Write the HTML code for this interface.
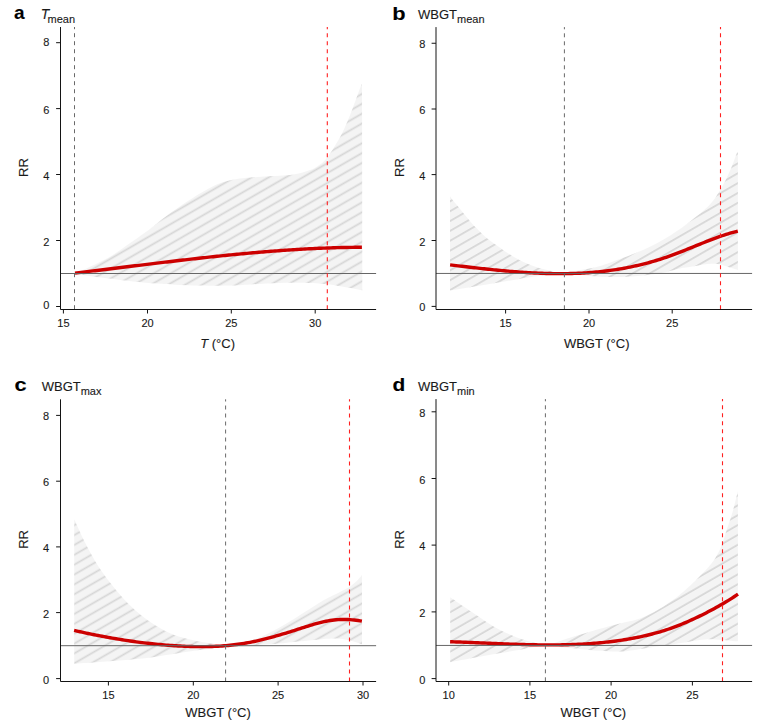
<!DOCTYPE html>
<html><head><meta charset="utf-8"><title>Figure</title>
<style>html,body{margin:0;padding:0;background:#fff;}svg{display:block;}text{stroke:#1a1a1a;stroke-width:0.12px;}</style></head><body>
<svg width="761" height="726" viewBox="0 0 761 726" font-family="'Liberation Sans', Arial, Helvetica, sans-serif">
<rect width="761" height="726" fill="#fff"/>
<defs>
<pattern id="ha" patternUnits="userSpaceOnUse" width="20" height="8.5390" patternTransform="rotate(-30)"><rect width="20" height="8.5390" fill="#f4f4f4"/><line x1="0" y1="6.149" x2="20" y2="6.149" stroke="#d6d6d6" stroke-width="1.7"/></pattern>
<pattern id="hb" patternUnits="userSpaceOnUse" width="20" height="8.5390" patternTransform="rotate(-30)"><rect width="20" height="8.5390" fill="#f4f4f4"/><line x1="0" y1="6.582" x2="20" y2="6.582" stroke="#d6d6d6" stroke-width="1.7"/></pattern>
<pattern id="hc" patternUnits="userSpaceOnUse" width="20" height="8.5390" patternTransform="rotate(-30)"><rect width="20" height="8.5390" fill="#f4f4f4"/><line x1="0" y1="5.283" x2="20" y2="5.283" stroke="#d6d6d6" stroke-width="1.7"/></pattern>
<pattern id="hc2" patternUnits="userSpaceOnUse" width="20" height="8.5390" patternTransform="rotate(-30)"><rect width="20" height="8.5390" fill="#f4f4f4"/><line x1="0" y1="3.377" x2="20" y2="3.377" stroke="#d6d6d6" stroke-width="1.7"/></pattern>
<pattern id="hd" patternUnits="userSpaceOnUse" width="20" height="8.5390" patternTransform="rotate(-30)"><rect width="20" height="8.5390" fill="#f4f4f4"/><line x1="0" y1="3.897" x2="20" y2="3.897" stroke="#d6d6d6" stroke-width="1.7"/></pattern>
</defs>
<g><path d="M74.60,273.00 C76.17,272.42 80.60,270.92 84.00,269.50 C87.40,268.08 90.18,266.90 95.00,264.50 C99.82,262.10 106.93,258.75 112.90,255.10 C118.87,251.45 124.62,246.97 130.80,242.60 C136.98,238.23 145.05,232.58 150.00,228.90 C154.95,225.22 157.00,223.22 160.50,220.50 C164.00,217.78 167.50,215.15 171.00,212.60 C174.50,210.05 178.00,207.57 181.50,205.20 C185.00,202.83 188.48,200.58 192.00,198.40 C195.52,196.22 199.08,194.12 202.60,192.10 C206.12,190.08 209.60,187.97 213.10,186.30 C216.60,184.63 219.20,183.38 223.60,182.10 C228.00,180.82 234.45,179.42 239.50,178.60 C244.55,177.78 249.08,177.58 253.90,177.20 C258.72,176.82 263.58,176.57 268.40,176.30 C273.22,176.03 277.98,176.02 282.80,175.60 C287.62,175.18 292.48,174.82 297.30,173.80 C302.12,172.78 308.15,170.87 311.70,169.50 C315.25,168.13 316.38,167.15 318.60,165.60 C320.82,164.05 323.10,162.22 325.00,160.20 C326.90,158.18 328.45,155.72 330.00,153.50 C331.55,151.28 332.27,150.32 334.30,146.90 C336.33,143.48 339.58,138.27 342.20,133.00 C344.82,127.73 347.37,121.85 350.00,115.30 C352.63,108.75 356.00,98.95 358.00,93.70 C360.00,88.45 361.33,85.45 362.00,83.80 L362.30,290.20 C358.65,289.53 346.35,287.20 340.40,286.20 C334.45,285.20 331.87,284.75 326.60,284.20 C321.33,283.65 316.68,283.12 308.80,282.90 C300.92,282.68 289.10,282.65 279.30,282.90 C269.50,283.15 258.22,283.95 250.00,284.40 C241.78,284.85 238.33,285.42 230.00,285.60 C221.67,285.78 209.17,285.65 200.00,285.50 C190.83,285.35 182.17,285.02 175.00,284.70 C167.83,284.38 164.00,284.13 157.00,283.60 C150.00,283.07 140.50,282.30 133.00,281.50 C125.50,280.70 119.00,279.68 112.00,278.80 C105.00,277.92 97.23,277.08 91.00,276.20 C84.77,275.32 77.33,273.95 74.60,273.50 Z" fill="url(#ha)"/>
<path d="M75.00,273.08 L77.00,272.84 L79.00,272.61 L81.00,272.37 L83.00,272.13 L85.00,271.89 L87.00,271.65 L89.00,271.42 L91.00,271.18 L93.00,270.93 L95.00,270.69 L97.00,270.45 L99.00,270.21 L101.00,269.97 L103.00,269.72 L105.00,269.48 L107.00,269.24 L109.00,268.99 L111.00,268.75 L113.00,268.51 L115.00,268.26 L117.00,268.02 L119.00,267.77 L121.00,267.53 L123.00,267.28 L125.00,267.04 L127.00,266.79 L129.00,266.54 L131.00,266.30 L133.00,266.05 L135.00,265.81 L137.00,265.57 L139.00,265.32 L141.00,265.08 L143.00,264.83 L145.00,264.59 L147.00,264.34 L149.00,264.10 L151.00,263.86 L153.00,263.62 L155.00,263.37 L157.00,263.13 L159.00,262.89 L161.00,262.65 L163.00,262.41 L165.00,262.17 L167.00,261.94 L169.00,261.70 L171.00,261.46 L173.00,261.23 L175.00,260.99 L177.00,260.76 L179.00,260.52 L181.00,260.29 L183.00,260.06 L185.00,259.83 L187.00,259.60 L189.00,259.37 L191.00,259.14 L193.00,258.91 L195.00,258.69 L197.00,258.46 L199.00,258.24 L201.00,258.02 L203.00,257.80 L205.00,257.58 L207.00,257.36 L209.00,257.14 L211.00,256.93 L213.00,256.72 L215.00,256.50 L217.00,256.29 L219.00,256.08 L221.00,255.88 L223.00,255.67 L225.00,255.46 L227.00,255.26 L229.00,255.06 L231.00,254.86 L233.00,254.66 L235.00,254.47 L237.00,254.27 L239.00,254.08 L241.00,253.89 L243.00,253.70 L245.00,253.52 L247.00,253.33 L249.00,253.15 L251.00,252.97 L253.00,252.79 L255.00,252.62 L257.00,252.44 L259.00,252.27 L261.00,252.10 L263.00,251.94 L265.00,251.77 L267.00,251.61 L269.00,251.45 L271.00,251.29 L273.00,251.14 L275.00,250.98 L277.00,250.83 L279.00,250.69 L281.00,250.54 L283.00,250.40 L285.00,250.26 L287.00,250.12 L289.00,249.99 L291.00,249.86 L293.00,249.73 L295.00,249.60 L297.00,249.48 L299.00,249.36 L301.00,249.24 L303.00,249.13 L305.00,249.02 L307.00,248.91 L309.00,248.80 L311.00,248.70 L313.00,248.60 L315.00,248.51 L317.00,248.41 L319.00,248.32 L321.00,248.24 L323.00,248.16 L325.00,248.08 L327.00,248.00 L329.00,247.93 L331.00,247.86 L333.00,247.79 L335.00,247.73 L337.00,247.67 L339.00,247.61 L341.00,247.56 L343.00,247.51 L345.00,247.47 L347.00,247.43 L349.00,247.39 L351.00,247.36 L353.00,247.33 L355.00,247.30 L357.00,247.28 L359.00,247.26 L361.00,247.25 L361.90,247.24" fill="none" stroke="#cc0000" stroke-width="3.4" stroke-linecap="butt" stroke-linejoin="round"/>
<line x1="60.50" y1="273.50" x2="376.10" y2="273.50" stroke="#666" stroke-width="1"/>
<line x1="74.50" y1="27.00" x2="74.50" y2="309.50" stroke="#6a6a6a" stroke-width="1" stroke-dasharray="4 4" stroke-dashoffset="1.8"/>
<line x1="327.30" y1="27.00" x2="327.30" y2="309.50" stroke="#ff2020" stroke-width="1.1" stroke-dasharray="4 4" stroke-dashoffset="1.8"/>
<path d="M60.50,27.00 V309.50 H376.10" fill="none" stroke="#141414" stroke-width="1"/>
<line x1="56.10" y1="42.70" x2="60.50" y2="42.70" stroke="#141414" stroke-width="1"/>
<text x="49.40" y="45.95" font-size="11" text-anchor="end" fill="#1a1a1a">8</text>
<line x1="56.10" y1="108.60" x2="60.50" y2="108.60" stroke="#141414" stroke-width="1"/>
<text x="49.40" y="113.95" font-size="11" text-anchor="end" fill="#1a1a1a">6</text>
<line x1="56.10" y1="174.50" x2="60.50" y2="174.50" stroke="#141414" stroke-width="1"/>
<text x="49.40" y="179.85" font-size="11" text-anchor="end" fill="#1a1a1a">4</text>
<line x1="56.10" y1="240.50" x2="60.50" y2="240.50" stroke="#141414" stroke-width="1"/>
<text x="49.40" y="245.95" font-size="11" text-anchor="end" fill="#1a1a1a">2</text>
<line x1="56.10" y1="306.50" x2="60.50" y2="306.50" stroke="#141414" stroke-width="1"/>
<text x="49.40" y="308.85" font-size="11" text-anchor="end" fill="#1a1a1a">0</text>
<line x1="63.40" y1="309.50" x2="63.40" y2="313.50" stroke="#141414" stroke-width="1"/>
<text x="63.40" y="326.80" font-size="11" text-anchor="middle" fill="#1a1a1a">15</text>
<line x1="147.50" y1="309.50" x2="147.50" y2="313.50" stroke="#141414" stroke-width="1"/>
<text x="147.50" y="326.80" font-size="11" text-anchor="middle" fill="#1a1a1a">20</text>
<line x1="231.30" y1="309.50" x2="231.30" y2="313.50" stroke="#141414" stroke-width="1"/>
<text x="231.30" y="326.80" font-size="11" text-anchor="middle" fill="#1a1a1a">25</text>
<line x1="315.20" y1="309.50" x2="315.20" y2="313.50" stroke="#141414" stroke-width="1"/>
<text x="315.20" y="326.80" font-size="11" text-anchor="middle" fill="#1a1a1a">30</text>
<text transform="translate(23.20,167.50) rotate(-90)" x="0" y="0" font-size="13" text-anchor="middle" dominant-baseline="central" fill="#1a1a1a">RR</text>
<text x="217.60" y="348.30" font-size="13" text-anchor="middle" fill="#1a1a1a"><tspan font-style="italic">T</tspan> (°C)</text>
<text transform="translate(14.00,19.30) scale(1.000,1)" x="0" y="0" font-size="19" font-weight="bold" fill="#000">a</text>
<text x="40.80" y="18.90" font-size="14" fill="#1a1a1a"><tspan font-style="italic">T</tspan><tspan font-size="11" dx="-1.8" dy="3.6">mean</tspan></text></g>
<g><path d="M450.00,196.30 C450.63,197.18 452.20,199.58 453.80,201.60 C455.40,203.62 457.67,206.07 459.60,208.40 C461.53,210.73 463.48,213.27 465.40,215.60 C467.32,217.93 469.18,220.23 471.10,222.40 C473.02,224.57 474.97,226.60 476.90,228.60 C478.83,230.60 480.60,232.47 482.70,234.40 C484.80,236.33 487.25,238.43 489.50,240.20 C491.75,241.97 493.95,243.38 496.20,245.00 C498.45,246.62 501.03,248.53 503.00,249.90 C504.97,251.27 506.23,252.07 508.00,253.20 C509.77,254.33 510.93,255.20 513.60,256.70 C516.27,258.20 520.50,260.55 524.00,262.20 C527.50,263.85 531.08,265.37 534.60,266.60 C538.12,267.83 541.70,268.72 545.10,269.60 C548.50,270.48 551.78,271.33 555.00,271.90 C558.22,272.47 560.78,273.18 564.40,273.00 C568.02,272.82 572.77,271.50 576.70,270.80 C580.63,270.10 584.12,269.60 588.00,268.80 C591.88,268.00 594.67,267.65 600.00,266.00 C605.33,264.35 614.03,261.07 620.00,258.90 C625.97,256.73 630.55,255.17 635.80,253.00 C641.05,250.83 646.25,248.53 651.50,245.90 C656.75,243.27 662.55,240.03 667.30,237.20 C672.05,234.37 676.05,231.65 680.00,228.90 C683.95,226.15 687.10,223.72 691.00,220.70 C694.90,217.68 699.88,213.90 703.40,210.80 C706.92,207.70 709.40,205.42 712.10,202.10 C714.80,198.78 717.32,194.62 719.60,190.90 C721.88,187.18 723.73,183.93 725.80,179.80 C727.87,175.67 730.15,170.55 732.00,166.10 C733.85,161.65 735.92,155.37 736.90,153.10 C737.88,150.83 737.73,152.60 737.90,152.50 L737.90,269.90 C736.22,269.37 730.70,267.62 727.80,266.70 C724.90,265.78 722.63,264.90 720.50,264.40 C718.37,263.90 717.15,263.75 715.00,263.70 C712.85,263.65 710.37,263.82 707.60,264.10 C704.83,264.38 701.47,264.90 698.40,265.40 C695.33,265.90 692.27,266.58 689.20,267.10 C686.13,267.62 684.87,267.47 680.00,268.50 C675.13,269.53 666.67,272.08 660.00,273.30 C653.33,274.52 646.50,275.20 640.00,275.80 C633.50,276.40 627.67,276.73 621.00,276.90 C614.33,277.07 607.38,277.18 600.00,276.80 C592.62,276.42 582.63,275.10 576.70,274.60 C570.77,274.10 567.92,273.85 564.40,273.80 C560.88,273.75 560.57,273.83 555.60,274.30 C550.63,274.77 541.60,275.65 534.60,276.60 C527.60,277.55 520.60,278.83 513.60,280.00 C506.60,281.17 499.62,282.42 492.60,283.60 C485.58,284.78 478.60,285.95 471.50,287.10 C464.40,288.25 453.58,289.93 450.00,290.50 Z" fill="url(#hb)"/>
<path d="M450.10,264.91 L452.10,265.15 L454.10,265.38 L456.10,265.61 L458.10,265.85 L460.10,266.08 L462.10,266.31 L464.10,266.54 L466.10,266.78 L468.10,267.01 L470.10,267.23 L472.10,267.46 L474.10,267.69 L476.10,267.91 L478.10,268.14 L480.10,268.36 L482.10,268.58 L484.10,268.79 L486.10,269.01 L488.10,269.22 L490.10,269.43 L492.10,269.63 L494.10,269.83 L496.10,270.03 L498.10,270.23 L500.10,270.42 L502.10,270.61 L504.10,270.79 L506.10,270.97 L508.10,271.15 L510.10,271.32 L512.10,271.49 L514.10,271.65 L516.10,271.80 L518.10,271.96 L520.10,272.10 L522.10,272.24 L524.10,272.38 L526.10,272.51 L528.10,272.63 L530.10,272.75 L532.10,272.86 L534.10,272.96 L536.10,273.06 L538.10,273.15 L540.10,273.23 L542.10,273.31 L544.10,273.38 L546.10,273.44 L548.10,273.50 L550.10,273.54 L552.10,273.58 L554.10,273.61 L556.10,273.63 L558.10,273.65 L560.10,273.65 L562.10,273.64 L564.10,273.63 L566.10,273.61 L568.10,273.58 L570.10,273.54 L572.10,273.48 L574.10,273.42 L576.10,273.35 L578.10,273.27 L580.10,273.18 L582.10,273.08 L584.10,272.96 L586.10,272.84 L588.10,272.70 L590.10,272.56 L592.10,272.40 L594.10,272.23 L596.10,272.05 L598.10,271.86 L600.10,271.65 L602.10,271.44 L604.10,271.21 L606.10,270.97 L608.10,270.71 L610.10,270.44 L612.10,270.16 L614.10,269.87 L616.10,269.56 L618.10,269.25 L620.10,268.91 L622.10,268.57 L624.10,268.21 L626.10,267.83 L628.10,267.45 L630.10,267.05 L632.10,266.63 L634.10,266.20 L636.10,265.76 L638.10,265.30 L640.10,264.82 L642.10,264.34 L644.10,263.83 L646.10,263.32 L648.10,262.78 L650.10,262.24 L652.10,261.67 L654.10,261.09 L656.10,260.50 L658.10,259.89 L660.10,259.26 L662.10,258.62 L664.10,257.96 L666.10,257.29 L668.10,256.59 L670.10,255.89 L672.10,255.16 L674.10,254.42 L676.10,253.67 L678.10,252.90 L680.10,252.13 L682.10,251.34 L684.10,250.55 L686.10,249.75 L688.10,248.94 L690.10,248.13 L692.10,247.31 L694.10,246.50 L696.10,245.69 L698.10,244.87 L700.10,244.06 L702.10,243.26 L704.10,242.46 L706.10,241.66 L708.10,240.88 L710.10,240.10 L712.10,239.34 L714.10,238.59 L716.10,237.85 L718.10,237.13 L720.10,236.42 L722.10,235.74 L724.10,235.07 L726.10,234.42 L728.10,233.80 L730.10,233.20 L732.10,232.62 L734.10,232.07 L736.10,231.55 L737.80,231.13" fill="none" stroke="#cc0000" stroke-width="3.4" stroke-linecap="butt" stroke-linejoin="round"/>
<line x1="436.00" y1="273.45" x2="752.10" y2="273.45" stroke="#666" stroke-width="1"/>
<line x1="564.40" y1="27.10" x2="564.40" y2="309.50" stroke="#6a6a6a" stroke-width="1" stroke-dasharray="4 4" stroke-dashoffset="1.8"/>
<line x1="720.50" y1="27.10" x2="720.50" y2="309.50" stroke="#ff2020" stroke-width="1.1" stroke-dasharray="4 4" stroke-dashoffset="1.8"/>
<path d="M436.00,27.10 V309.50 H752.10" fill="none" stroke="#141414" stroke-width="1"/>
<line x1="431.60" y1="43.25" x2="436.00" y2="43.25" stroke="#141414" stroke-width="1"/>
<text x="425.30" y="47.95" font-size="11" text-anchor="end" fill="#1a1a1a">8</text>
<line x1="431.60" y1="109.00" x2="436.00" y2="109.00" stroke="#141414" stroke-width="1"/>
<text x="425.30" y="114.15" font-size="11" text-anchor="end" fill="#1a1a1a">6</text>
<line x1="431.60" y1="174.60" x2="436.00" y2="174.60" stroke="#141414" stroke-width="1"/>
<text x="425.30" y="180.15" font-size="11" text-anchor="end" fill="#1a1a1a">4</text>
<line x1="431.60" y1="240.50" x2="436.00" y2="240.50" stroke="#141414" stroke-width="1"/>
<text x="425.30" y="245.95" font-size="11" text-anchor="end" fill="#1a1a1a">2</text>
<line x1="431.60" y1="306.40" x2="436.00" y2="306.40" stroke="#141414" stroke-width="1"/>
<text x="425.30" y="310.95" font-size="11" text-anchor="end" fill="#1a1a1a">0</text>
<line x1="505.60" y1="309.50" x2="505.60" y2="313.50" stroke="#141414" stroke-width="1"/>
<text x="505.60" y="327.00" font-size="11" text-anchor="middle" fill="#1a1a1a">15</text>
<line x1="589.00" y1="309.50" x2="589.00" y2="313.50" stroke="#141414" stroke-width="1"/>
<text x="589.00" y="327.00" font-size="11" text-anchor="middle" fill="#1a1a1a">20</text>
<line x1="672.20" y1="309.50" x2="672.20" y2="313.50" stroke="#141414" stroke-width="1"/>
<text x="672.20" y="327.00" font-size="11" text-anchor="middle" fill="#1a1a1a">25</text>
<text transform="translate(399.00,167.50) rotate(-90)" x="0" y="0" font-size="13" text-anchor="middle" dominant-baseline="central" fill="#1a1a1a">RR</text>
<text x="596.70" y="348.10" font-size="13" text-anchor="middle" fill="#1a1a1a">WBGT (°C)</text>
<text transform="translate(392.30,19.50) scale(1.150,1)" x="0" y="0" font-size="19" font-weight="bold" fill="#000">b</text>
<text x="418.00" y="19.00" font-size="13" fill="#1a1a1a">WBGT<tspan font-size="11" dy="3.8">mean</tspan></text></g>
<g><path d="M74.20,519.30 C76.00,523.17 81.12,534.90 85.00,542.50 C88.88,550.10 93.33,558.25 97.50,564.90 C101.67,571.55 105.85,576.98 110.00,582.40 C114.15,587.82 118.25,592.82 122.40,597.40 C126.55,601.98 130.73,606.15 134.90,609.90 C139.07,613.65 143.23,616.88 147.40,619.90 C151.57,622.92 155.73,625.60 159.90,628.00 C164.07,630.40 168.25,632.60 172.40,634.30 C176.55,636.00 180.65,637.05 184.80,638.20 C188.95,639.35 193.13,640.37 197.30,641.20 C201.47,642.03 205.68,642.58 209.80,643.20 C213.92,643.82 219.37,644.50 222.00,644.90 C224.63,645.30 225.00,645.48 225.60,645.60 L225.60,645.70 C223.83,646.12 219.77,647.43 215.00,648.20 C210.23,648.97 204.50,649.23 197.00,650.30 C189.50,651.37 178.03,653.37 170.00,654.60 C161.97,655.83 156.70,656.75 148.80,657.70 C140.90,658.65 131.35,659.53 122.60,660.30 C113.85,661.07 104.37,661.72 96.30,662.30 C88.23,662.88 77.88,663.55 74.20,663.80 Z" fill="url(#hc)"/>
<path d="M225.60,645.60 C226.33,645.50 227.60,645.33 230.00,645.00 C232.40,644.67 235.85,644.55 240.00,643.60 C244.15,642.65 251.23,640.48 254.90,639.30 C258.57,638.12 258.18,638.28 262.00,636.50 C265.82,634.72 272.55,631.48 277.80,628.60 C283.05,625.72 288.25,622.42 293.50,619.20 C298.75,615.98 304.55,612.28 309.30,609.30 C314.05,606.32 318.92,603.17 322.00,601.30 C325.08,599.43 324.87,599.62 327.80,598.10 C330.73,596.58 335.92,594.10 339.60,592.20 C343.28,590.30 347.13,588.47 349.90,586.70 C352.67,584.93 354.18,583.50 356.20,581.60 C358.22,579.70 361.03,576.35 362.00,575.30 L362.00,644.30 C360.07,643.68 354.18,641.53 350.40,640.60 C346.62,639.67 344.03,638.93 339.30,638.70 C334.57,638.47 328.83,638.73 322.00,639.20 C315.17,639.67 305.53,640.77 298.30,641.50 C291.07,642.23 285.25,643.02 278.60,643.60 C271.95,644.18 264.83,644.50 258.40,645.00 C251.97,645.50 244.40,646.38 240.00,646.60 C235.60,646.82 234.40,646.45 232.00,646.30 C229.60,646.15 226.67,645.80 225.60,645.70 Z" fill="url(#hc2)"/>
<path d="M74.10,630.40 L76.10,630.86 L78.10,631.31 L80.10,631.75 L82.10,632.19 L84.10,632.63 L86.10,633.06 L88.10,633.48 L90.10,633.89 L92.10,634.30 L94.10,634.71 L96.10,635.11 L98.10,635.50 L100.10,635.89 L102.10,636.27 L104.10,636.65 L106.10,637.02 L108.10,637.38 L110.10,637.74 L112.10,638.09 L114.10,638.43 L116.10,638.77 L118.10,639.11 L120.10,639.43 L122.10,639.75 L124.10,640.07 L126.10,640.37 L128.10,640.67 L130.10,640.97 L132.10,641.25 L134.10,641.54 L136.10,641.81 L138.10,642.08 L140.10,642.34 L142.10,642.59 L144.10,642.84 L146.10,643.08 L148.10,643.31 L150.10,643.54 L152.10,643.76 L154.10,643.97 L156.10,644.17 L158.10,644.37 L160.10,644.56 L162.10,644.74 L164.10,644.92 L166.10,645.09 L168.10,645.25 L170.10,645.40 L172.10,645.55 L174.10,645.69 L176.10,645.82 L178.10,645.94 L180.10,646.06 L182.10,646.16 L184.10,646.26 L186.10,646.35 L188.10,646.42 L190.10,646.49 L192.10,646.55 L194.10,646.59 L196.10,646.63 L198.10,646.65 L200.10,646.67 L202.10,646.67 L204.10,646.66 L206.10,646.63 L208.10,646.59 L210.10,646.54 L212.10,646.48 L214.10,646.40 L216.10,646.31 L218.10,646.21 L220.10,646.09 L222.10,645.95 L224.10,645.80 L226.10,645.64 L228.10,645.46 L230.10,645.26 L232.10,645.04 L234.10,644.81 L236.10,644.56 L238.10,644.30 L240.10,644.01 L242.10,643.71 L244.10,643.39 L246.10,643.05 L248.10,642.70 L250.10,642.32 L252.10,641.93 L254.10,641.51 L256.10,641.08 L258.10,640.64 L260.10,640.18 L262.10,639.70 L264.10,639.21 L266.10,638.71 L268.10,638.19 L270.10,637.66 L272.10,637.11 L274.10,636.56 L276.10,635.99 L278.10,635.42 L280.10,634.83 L282.10,634.24 L284.10,633.64 L286.10,633.03 L288.10,632.41 L290.10,631.79 L292.10,631.16 L294.10,630.52 L296.10,629.88 L298.10,629.24 L300.10,628.59 L302.10,627.95 L304.10,627.30 L306.10,626.67 L308.10,626.04 L310.10,625.42 L312.10,624.82 L314.10,624.24 L316.10,623.68 L318.10,623.14 L320.10,622.62 L322.10,622.14 L324.10,621.68 L326.10,621.26 L328.10,620.88 L330.10,620.54 L332.10,620.24 L334.10,619.99 L336.10,619.78 L338.10,619.62 L340.10,619.52 L342.10,619.46 L344.10,619.44 L346.10,619.47 L348.10,619.55 L350.10,619.66 L352.10,619.82 L354.10,620.03 L356.10,620.27 L358.10,620.55 L360.10,620.86 L361.90,621.18" fill="none" stroke="#cc0000" stroke-width="3.4" stroke-linecap="butt" stroke-linejoin="round"/>
<line x1="60.50" y1="645.70" x2="376.10" y2="645.70" stroke="#666" stroke-width="1"/>
<line x1="225.60" y1="399.30" x2="225.60" y2="681.50" stroke="#6a6a6a" stroke-width="1" stroke-dasharray="4 4" stroke-dashoffset="1.8"/>
<line x1="349.50" y1="399.30" x2="349.50" y2="681.50" stroke="#ff2020" stroke-width="1.1" stroke-dasharray="4 4" stroke-dashoffset="1.8"/>
<path d="M60.50,399.30 V681.50 H376.10" fill="none" stroke="#141414" stroke-width="1"/>
<line x1="56.10" y1="415.40" x2="60.50" y2="415.40" stroke="#141414" stroke-width="1"/>
<text x="49.20" y="420.05" font-size="11" text-anchor="end" fill="#1a1a1a">8</text>
<line x1="56.10" y1="481.20" x2="60.50" y2="481.20" stroke="#141414" stroke-width="1"/>
<text x="49.20" y="486.05" font-size="11" text-anchor="end" fill="#1a1a1a">6</text>
<line x1="56.10" y1="546.90" x2="60.50" y2="546.90" stroke="#141414" stroke-width="1"/>
<text x="49.20" y="552.05" font-size="11" text-anchor="end" fill="#1a1a1a">4</text>
<line x1="56.10" y1="612.60" x2="60.50" y2="612.60" stroke="#141414" stroke-width="1"/>
<text x="49.20" y="617.95" font-size="11" text-anchor="end" fill="#1a1a1a">2</text>
<line x1="56.10" y1="678.60" x2="60.50" y2="678.60" stroke="#141414" stroke-width="1"/>
<text x="49.20" y="683.95" font-size="11" text-anchor="end" fill="#1a1a1a">0</text>
<line x1="108.40" y1="681.50" x2="108.40" y2="685.50" stroke="#141414" stroke-width="1"/>
<text x="108.40" y="698.80" font-size="11" text-anchor="middle" fill="#1a1a1a">15</text>
<line x1="193.30" y1="681.50" x2="193.30" y2="685.50" stroke="#141414" stroke-width="1"/>
<text x="193.30" y="698.80" font-size="11" text-anchor="middle" fill="#1a1a1a">20</text>
<line x1="278.10" y1="681.50" x2="278.10" y2="685.50" stroke="#141414" stroke-width="1"/>
<text x="278.10" y="698.80" font-size="11" text-anchor="middle" fill="#1a1a1a">25</text>
<line x1="363.00" y1="681.50" x2="363.00" y2="685.50" stroke="#141414" stroke-width="1"/>
<text x="363.00" y="698.80" font-size="11" text-anchor="middle" fill="#1a1a1a">30</text>
<text transform="translate(23.20,539.40) rotate(-90)" x="0" y="0" font-size="13" text-anchor="middle" dominant-baseline="central" fill="#1a1a1a">RR</text>
<text x="218.00" y="717.10" font-size="13" text-anchor="middle" fill="#1a1a1a">WBGT (°C)</text>
<text transform="translate(14.40,391.00) scale(1.150,1)" x="0" y="0" font-size="19" font-weight="bold" fill="#000">c</text>
<text x="41.70" y="390.80" font-size="13" fill="#1a1a1a">WBGT<tspan font-size="11" dy="3.8">max</tspan></text></g>
<g><path d="M450.20,597.20 C452.45,598.75 459.48,603.60 463.70,606.50 C467.92,609.40 471.57,611.93 475.50,614.60 C479.43,617.27 483.37,620.02 487.30,622.50 C491.23,624.98 495.15,627.42 499.10,629.50 C503.05,631.58 507.05,633.33 511.00,635.00 C514.95,636.67 518.87,638.20 522.80,639.50 C526.73,640.80 530.82,641.88 534.60,642.80 C538.38,643.72 541.35,645.27 545.50,645.00 C549.65,644.73 554.77,642.60 559.50,641.20 C564.23,639.80 569.08,638.10 573.90,636.60 C578.72,635.10 582.38,633.95 588.40,632.20 C594.42,630.45 603.90,627.75 610.00,626.10 C616.10,624.45 620.00,623.55 625.00,622.30 C630.00,621.05 634.43,620.73 640.00,618.60 C645.57,616.47 652.27,613.07 658.40,609.50 C664.53,605.93 671.43,601.23 676.80,597.20 C682.17,593.17 686.62,588.95 690.60,585.30 C694.58,581.65 697.47,578.65 700.70,575.30 C703.93,571.95 707.48,568.22 710.00,565.20 C712.52,562.18 713.92,560.37 715.80,557.20 C717.68,554.03 719.47,550.80 721.30,546.20 C723.13,541.60 724.97,535.12 726.80,529.60 C728.63,524.08 730.45,519.53 732.30,513.10 C734.15,506.67 736.97,494.68 737.90,491.00 L737.90,641.30 C735.13,641.07 726.82,640.22 721.30,639.90 C715.78,639.58 711.23,638.93 704.80,639.40 C698.37,639.87 690.98,641.47 682.70,642.70 C674.42,643.93 664.28,645.42 655.10,646.80 C645.92,648.18 633.45,650.20 627.60,651.00 C621.75,651.80 625.65,651.70 620.00,651.60 C614.35,651.50 602.02,650.98 593.70,650.40 C585.38,649.82 578.13,648.87 570.10,648.10 C562.07,647.33 553.38,645.62 545.50,645.80 C537.62,645.98 530.53,647.95 522.80,649.20 C515.07,650.45 506.98,651.92 499.10,653.30 C491.22,654.68 483.65,656.02 475.50,657.50 C467.35,658.98 454.42,661.42 450.20,662.20 Z" fill="url(#hd)"/>
<path d="M450.10,641.74 L452.10,641.80 L454.10,641.86 L456.10,641.93 L458.10,641.99 L460.10,642.06 L462.10,642.13 L464.10,642.21 L466.10,642.28 L468.10,642.36 L470.10,642.44 L472.10,642.52 L474.10,642.60 L476.10,642.69 L478.10,642.77 L480.10,642.85 L482.10,642.94 L484.10,643.02 L486.10,643.11 L488.10,643.19 L490.10,643.28 L492.10,643.36 L494.10,643.45 L496.10,643.53 L498.10,643.61 L500.10,643.70 L502.10,643.78 L504.10,643.86 L506.10,643.93 L508.10,644.01 L510.10,644.08 L512.10,644.16 L514.10,644.23 L516.10,644.29 L518.10,644.36 L520.10,644.42 L522.10,644.48 L524.10,644.54 L526.10,644.59 L528.10,644.64 L530.10,644.69 L532.10,644.73 L534.10,644.77 L536.10,644.81 L538.10,644.84 L540.10,644.86 L542.10,644.88 L544.10,644.90 L546.10,644.91 L548.10,644.92 L550.10,644.92 L552.10,644.92 L554.10,644.91 L556.10,644.90 L558.10,644.88 L560.10,644.85 L562.10,644.82 L564.10,644.78 L566.10,644.73 L568.10,644.68 L570.10,644.62 L572.10,644.55 L574.10,644.48 L576.10,644.40 L578.10,644.31 L580.10,644.21 L582.10,644.11 L584.10,643.99 L586.10,643.87 L588.10,643.74 L590.10,643.61 L592.10,643.46 L594.10,643.30 L596.10,643.14 L598.10,642.96 L600.10,642.78 L602.10,642.59 L604.10,642.38 L606.10,642.17 L608.10,641.95 L610.10,641.71 L612.10,641.47 L614.10,641.22 L616.10,640.95 L618.10,640.67 L620.10,640.39 L622.10,640.09 L624.10,639.78 L626.10,639.46 L628.10,639.12 L630.10,638.78 L632.10,638.42 L634.10,638.04 L636.10,637.66 L638.10,637.25 L640.10,636.84 L642.10,636.41 L644.10,635.96 L646.10,635.50 L648.10,635.02 L650.10,634.52 L652.10,634.01 L654.10,633.48 L656.10,632.93 L658.10,632.37 L660.10,631.78 L662.10,631.18 L664.10,630.55 L666.10,629.91 L668.10,629.25 L670.10,628.56 L672.10,627.85 L674.10,627.13 L676.10,626.38 L678.10,625.61 L680.10,624.82 L682.10,624.01 L684.10,623.18 L686.10,622.33 L688.10,621.46 L690.10,620.57 L692.10,619.67 L694.10,618.75 L696.10,617.81 L698.10,616.86 L700.10,615.89 L702.10,614.91 L704.10,613.91 L706.10,612.89 L708.10,611.86 L710.10,610.81 L712.10,609.74 L714.10,608.66 L716.10,607.56 L718.10,606.45 L720.10,605.32 L722.10,604.17 L724.10,603.01 L726.10,601.83 L728.10,600.62 L730.10,599.38 L732.10,598.10 L734.10,596.78 L736.10,595.41 L738.00,594.05" fill="none" stroke="#cc0000" stroke-width="3.4" stroke-linecap="butt" stroke-linejoin="round"/>
<line x1="436.00" y1="645.45" x2="752.10" y2="645.45" stroke="#666" stroke-width="1"/>
<line x1="545.40" y1="399.10" x2="545.40" y2="681.50" stroke="#6a6a6a" stroke-width="1" stroke-dasharray="4 4" stroke-dashoffset="1.8"/>
<line x1="722.50" y1="399.10" x2="722.50" y2="681.50" stroke="#ff2020" stroke-width="1.1" stroke-dasharray="4 4" stroke-dashoffset="1.8"/>
<path d="M436.00,399.10 V681.50 H752.10" fill="none" stroke="#141414" stroke-width="1"/>
<line x1="431.60" y1="411.80" x2="436.00" y2="411.80" stroke="#141414" stroke-width="1"/>
<text x="425.30" y="416.95" font-size="11" text-anchor="end" fill="#1a1a1a">8</text>
<line x1="431.60" y1="478.50" x2="436.00" y2="478.50" stroke="#141414" stroke-width="1"/>
<text x="425.30" y="484.15" font-size="11" text-anchor="end" fill="#1a1a1a">6</text>
<line x1="431.60" y1="545.10" x2="436.00" y2="545.10" stroke="#141414" stroke-width="1"/>
<text x="425.30" y="550.15" font-size="11" text-anchor="end" fill="#1a1a1a">4</text>
<line x1="431.60" y1="611.90" x2="436.00" y2="611.90" stroke="#141414" stroke-width="1"/>
<text x="425.30" y="616.95" font-size="11" text-anchor="end" fill="#1a1a1a">2</text>
<line x1="431.60" y1="678.60" x2="436.00" y2="678.60" stroke="#141414" stroke-width="1"/>
<text x="425.30" y="683.95" font-size="11" text-anchor="end" fill="#1a1a1a">0</text>
<line x1="448.70" y1="681.50" x2="448.70" y2="685.50" stroke="#141414" stroke-width="1"/>
<text x="448.70" y="699.00" font-size="11" text-anchor="middle" fill="#1a1a1a">10</text>
<line x1="529.90" y1="681.50" x2="529.90" y2="685.50" stroke="#141414" stroke-width="1"/>
<text x="529.90" y="699.00" font-size="11" text-anchor="middle" fill="#1a1a1a">15</text>
<line x1="611.10" y1="681.50" x2="611.10" y2="685.50" stroke="#141414" stroke-width="1"/>
<text x="611.10" y="699.00" font-size="11" text-anchor="middle" fill="#1a1a1a">20</text>
<line x1="692.40" y1="681.50" x2="692.40" y2="685.50" stroke="#141414" stroke-width="1"/>
<text x="692.40" y="699.00" font-size="11" text-anchor="middle" fill="#1a1a1a">25</text>
<text transform="translate(399.00,539.40) rotate(-90)" x="0" y="0" font-size="13" text-anchor="middle" dominant-baseline="central" fill="#1a1a1a">RR</text>
<text x="593.30" y="717.10" font-size="13" text-anchor="middle" fill="#1a1a1a">WBGT (°C)</text>
<text transform="translate(392.50,390.90) scale(1.100,1)" x="0" y="0" font-size="19" font-weight="bold" fill="#000">d</text>
<text x="418.00" y="390.90" font-size="13" fill="#1a1a1a">WBGT<tspan font-size="11" dy="3.8">min</tspan></text></g>
</svg></body></html>
